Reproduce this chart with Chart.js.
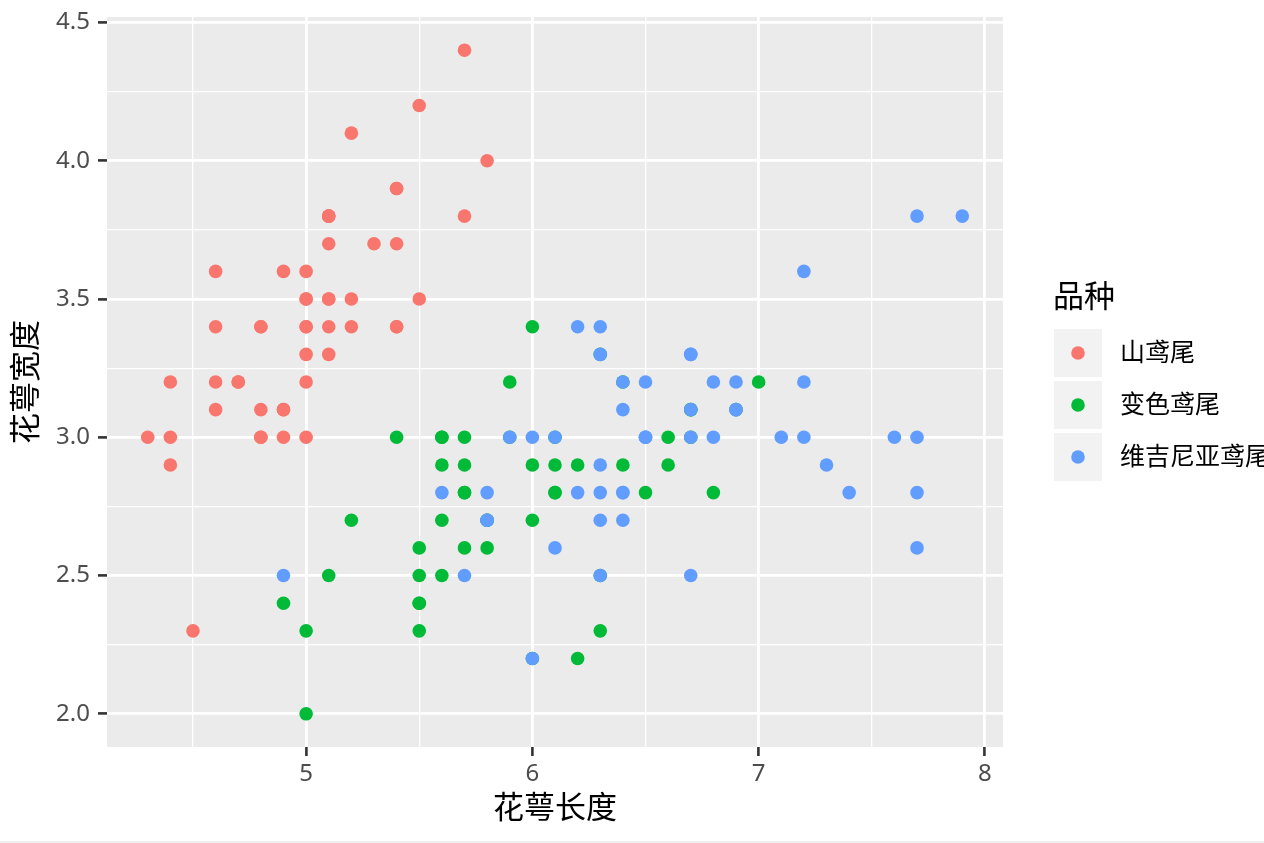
<!DOCTYPE html>
<html>
<head>
<meta charset="utf-8">
<script src="https://cdn.jsdelivr.net/npm/chart.js@4.4.0/dist/chart.umd.min.js"></script>
<style>
html,body{margin:0;padding:0;background:#fff;}
#wrap{width:1264px;height:843px;position:relative;}
canvas{display:block;}
</style>
</head>
<body>
<div id="wrap"><canvas id="c" width="1264" height="843"></canvas></div>
<script>
// Iris: 花萼长度 (sepal length) vs 花萼宽度 (sepal width)
const seriesNames = ['山鸢尾', '变色鸢尾', '维吉尼亚鸢尾'];
const seriesColors = ['#F8766D', '#00BA38', '#619CFF'];

const setosaLength = [5.1,4.9,4.7,4.6,5.0,5.4,4.6,5.0,4.4,4.9,5.4,4.8,4.8,4.3,5.8,5.7,5.4,5.1,5.7,5.1,5.4,5.1,4.6,5.1,4.8,5.0,5.0,5.2,5.2,4.7,4.8,5.4,5.2,5.5,4.9,5.0,5.5,4.9,4.4,5.1,5.0,4.5,4.4,5.0,5.1,4.8,5.1,4.6,5.3,5.0];
const setosaWidth  = [3.5,3.0,3.2,3.1,3.6,3.9,3.4,3.4,2.9,3.1,3.7,3.4,3.0,3.0,4.0,4.4,3.9,3.5,3.8,3.8,3.4,3.7,3.6,3.3,3.4,3.0,3.4,3.5,3.4,3.2,3.1,3.4,4.1,4.2,3.1,3.2,3.5,3.6,3.0,3.4,3.5,2.3,3.2,3.5,3.8,3.0,3.8,3.2,3.7,3.3];

const versicolorLength = [7.0,6.4,6.9,5.5,6.5,5.7,6.3,4.9,6.6,5.2,5.0,5.9,6.0,6.1,5.6,6.7,5.6,5.8,6.2,5.6,5.9,6.1,6.3,6.1,6.4,6.6,6.8,6.7,6.0,5.7,5.5,5.5,5.8,6.0,5.4,6.0,6.7,6.3,5.6,5.5,5.5,6.1,5.8,5.0,5.6,5.7,5.7,6.2,5.1,5.7];
const versicolorWidth  = [3.2,3.2,3.1,2.3,2.8,2.8,3.3,2.4,2.9,2.7,2.0,3.0,2.2,2.9,2.9,3.1,3.0,2.7,2.2,2.5,3.2,2.8,2.5,2.8,2.9,3.0,2.8,3.0,2.9,2.6,2.4,2.4,2.7,2.7,3.0,3.4,3.1,2.3,3.0,2.5,2.6,3.0,2.6,2.3,2.7,3.0,2.9,2.9,2.5,2.8];

const virginicaLength = [6.3,5.8,7.1,6.3,6.5,7.6,4.9,7.3,6.7,7.2,6.5,6.4,6.8,5.7,5.8,6.4,6.5,7.7,7.7,6.0,6.9,5.6,7.7,6.3,6.7,7.2,6.2,6.1,6.4,7.2,7.4,7.9,6.4,6.3,6.1,7.7,6.3,6.4,6.0,6.9,6.7,6.9,5.8,6.8,6.7,6.7,6.3,6.5,6.2,5.9];
const virginicaWidth  = [3.3,2.7,3.0,2.9,3.0,3.0,2.5,2.9,2.5,3.6,3.2,2.7,3.0,2.5,2.8,3.2,3.0,3.8,2.6,2.2,3.2,2.8,2.8,2.7,3.3,3.2,2.8,3.0,2.8,3.0,2.8,3.8,2.8,2.8,2.6,3.0,3.4,3.1,3.0,3.1,3.1,3.1,2.7,3.2,3.3,3.0,2.5,3.0,3.4,3.0];

const xMajorTicks = [5, 6, 7, 8];
const xMinorTicks = [4.5, 5.5, 6.5, 7.5];
const yMajorTicks = [2.0, 2.5, 3.0, 3.5, 4.0, 4.5];
const yMinorTicks = [2.25, 2.75, 3.25, 3.75, 4.25];
const xRange = [4.12, 8.08];
const yRange = [1.88, 4.52];

const xTitle = '花萼长度';
const yTitle = '花萼宽度';
const legendTitle = '品种';

const FONT = "'Noto Sans', 'Noto Sans CJK SC', sans-serif";

function pts(xs, ys) { return xs.map((x, i) => ({x: x, y: ys[i]})); }
const seriesData = [pts(setosaLength, setosaWidth), pts(versicolorLength, versicolorWidth), pts(virginicaLength, virginicaWidth)];

function buildTicks(major, minor) {
  return major.map(v => ({value: v, major: true})).concat(minor.map(v => ({value: v, major: false})))
    .sort((a, b) => a.value - b.value);
}
function isMajor(ctx) { return ctx.tick && ctx.tick.major; }

const panelBg = {
  id: 'panelBg',
  beforeDraw(chart) {
    const {ctx, chartArea: a} = chart;
    ctx.save();
    ctx.fillStyle = '#EBEBEB';
    ctx.fillRect(a.left, a.top, a.right - a.left, a.bottom - a.top);
    ctx.restore();
  },
  afterDraw(chart) {
    const ctx = chart.ctx;
    ctx.save();
    // legend
    ctx.fillStyle = '#000';
    ctx.font = "31px " + FONT;
    ctx.textBaseline = 'middle';
    ctx.textAlign = 'left';
    ctx.fillText(legendTitle, 1053, 298);
    seriesNames.forEach((name, i) => {
      const top = 329 + i * 52;
      ctx.fillStyle = '#F2F2F2';
      ctx.fillRect(1054, top, 48, 48);
      ctx.beginPath();
      ctx.arc(1078, top + 24, 6.8, 0, Math.PI * 2);
      ctx.fillStyle = seriesColors[i];
      ctx.fill();
      ctx.fillStyle = '#000';
      ctx.font = "25px " + FONT;
      ctx.fillText(name, 1120, top + 25);
    });
    ctx.fillStyle = '#EFEFEF';
    ctx.fillRect(0, 841, 1264, 2);
    ctx.restore();
  }
};

new Chart(document.getElementById('c'), {
  type: 'scatter',
  data: {
    datasets: seriesNames.map((name, i) => ({
      label: name,
      data: seriesData[i],
      backgroundColor: seriesColors[i],
      borderWidth: 0,
      pointRadius: 6.8,
      pointHoverRadius: 6.8,
      order: 2 - i
    }))
  },
  options: {
    responsive: false,
    animation: false,
    devicePixelRatio: 1,
    layout: {padding: {left: 0, top: 17, right: 261, bottom: 0}},
    plugins: {legend: {display: false}, tooltip: {enabled: false}},
    scales: {
      x: {
        type: 'linear',
        min: xRange[0], max: xRange[1],
        afterBuildTicks(scale) { scale.ticks = buildTicks(xMajorTicks, xMinorTicks); },
        afterFit(scale) { scale.height = 96; scale.paddingLeft = 0; scale.paddingRight = 0; },
        border: {display: false},
        grid: {
          color: '#FFFFFF',
          lineWidth: ctx => isMajor(ctx) ? 2.8 : 1.3,
          tickColor: ctx => isMajor(ctx) ? '#333333' : 'rgba(0,0,0,0)',
          tickWidth: 2.6,
          tickLength: 9,
          drawTicks: true
        },
        ticks: {
          autoSkip: false,
          maxRotation: 0,
          padding: 4,
          color: '#4D4D4D',
          font: {family: FONT, size: 24},
          callback(v, i, ticks) { return ticks[i].major ? String(v) : ''; }
        },
        title: {
          display: true, text: xTitle, color: '#000',
          font: {family: FONT, size: 31}, padding: {top: 0, bottom: 15}
        }
      },
      y: {
        type: 'linear',
        min: yRange[0], max: yRange[1],
        afterBuildTicks(scale) { scale.ticks = buildTicks(yMajorTicks, yMinorTicks); },
        afterFit(scale) { scale.width = 107; scale.paddingTop = 0; scale.paddingBottom = 0; },
        border: {display: false},
        grid: {
          color: '#FFFFFF',
          lineWidth: ctx => isMajor(ctx) ? 2.8 : 1.3,
          tickColor: ctx => isMajor(ctx) ? '#333333' : 'rgba(0,0,0,0)',
          tickWidth: 2.6,
          tickLength: 9,
          drawTicks: true
        },
        ticks: {
          autoSkip: false,
          padding: 8,
          color: '#4D4D4D',
          font: {family: FONT, size: 24},
          callback(v, i, ticks) { return ticks[i].major ? Number(v).toFixed(1) : ''; }
        },
        title: {
          display: true, text: yTitle, color: '#000',
          font: {family: FONT, size: 31}, padding: {top: 9, bottom: 0}
        }
      }
    }
  },
  plugins: [panelBg]
});
</script>
</body>
</html>
